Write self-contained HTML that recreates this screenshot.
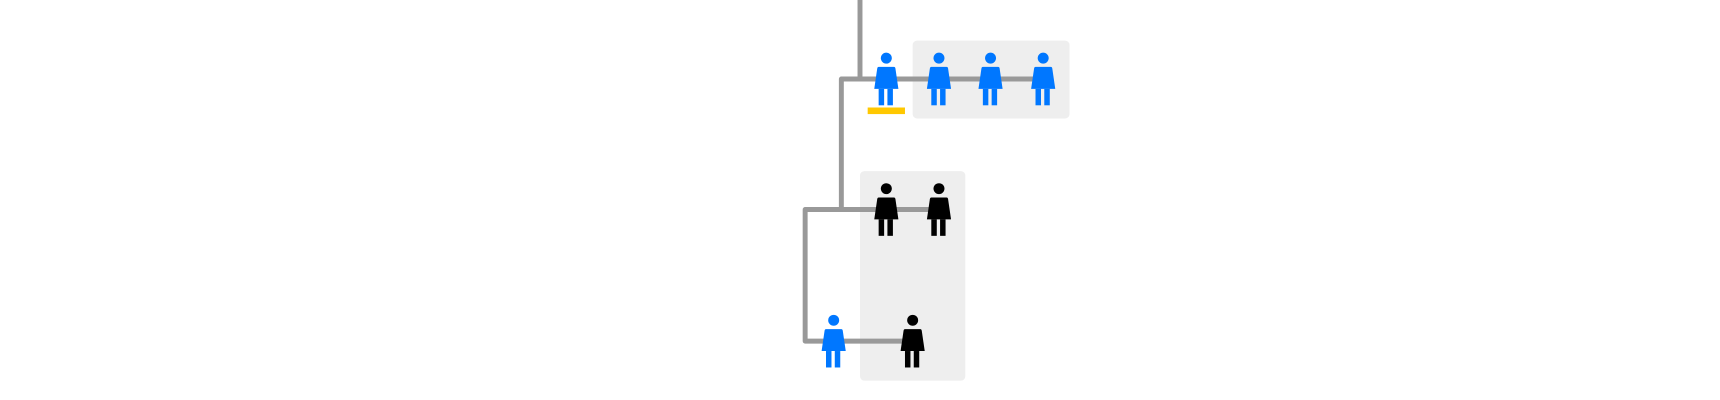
<!DOCTYPE html>
<html><head><style>html,body{margin:0;padding:0;background:#fff;}svg{display:block}</style></head>
<body>
<svg width="1720" height="400" viewBox="0 0 1568 364.65" preserveAspectRatio="none" xmlns="http://www.w3.org/2000/svg">
<defs>
<g id="p">
<circle cx="0" cy="-19" r="5"/>
<path d="M-7,-11 H7 Q8,-11 8.3,-9.5 L11,9 H-11 L-8.3,-9.5 Q-8,-11 -7,-11 Z"/>
<rect x="-7" y="9" width="5" height="15"/>
<rect x="1" y="9" width="5" height="15"/>
</g>
</defs>
<rect x="832" y="37" width="143" height="71" rx="4" fill="#eeeeee"/>
<rect x="784" y="156" width="96" height="191" rx="4" fill="#eeeeee"/>
<g fill="none" stroke="#999999" stroke-width="4.5" stroke-linejoin="round">
<path d="M784,0 V72"/>
<path d="M950,72 H767 V191"/>
<path d="M855,191 H734 V311 H832"/>
</g>
<rect x="791" y="98" width="34" height="6" fill="#ffc800"/>
<g fill="#0077ff">
<use href="#p" x="808" y="72"/>
<use href="#p" x="856" y="72"/>
<use href="#p" x="903" y="72"/>
<use href="#p" x="951" y="72"/>
<use href="#p" x="760" y="311"/>
</g>
<g fill="#000">
<use href="#p" x="808" y="191"/>
<use href="#p" x="856" y="191"/>
<use href="#p" x="832" y="311"/>
</g>
</svg>
</body></html>
